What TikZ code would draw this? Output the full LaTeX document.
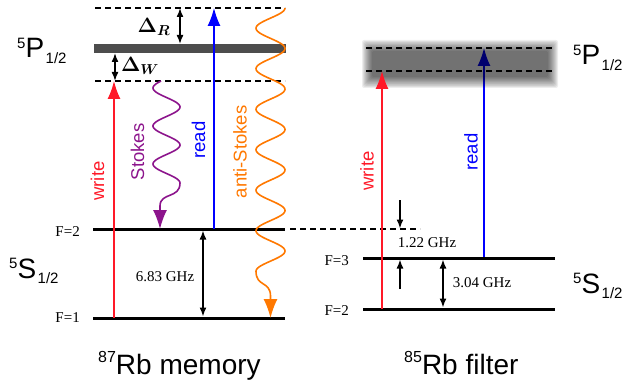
\documentclass[tikz,border=0pt]{standalone}
\usepackage[no-math]{fontspec}
\setmainfont{Liberation Sans}
\newfontfamily\serifF{Liberation Serif}
\usepackage{amsmath,bm}
\usetikzlibrary{arrows.meta}
\definecolor{wred}{RGB}{255,25,40}
\definecolor{rblue}{RGB}{0,0,255}
\definecolor{spurple}{RGB}{140,20,140}
\definecolor{aorange}{RGB}{255,120,0}
\definecolor{bargray}{RGB}{77,77,77}
\newcommand{\levlab}[3]{{\fontsize{15}{15}\selectfont\raisebox{9.5pt}{#1}}{\fontsize{28}{28}\selectfont #2}\kern1.5pt{\fontsize{15}{15}\selectfont\raisebox{-5.5pt}{#3}}}
\newcommand{\isolab}[2]{{\fontsize{16}{16}\selectfont\raisebox{12pt}{#1}}{\fontsize{28}{28}\selectfont Rb #2}}
\begin{document}
\begin{tikzpicture}[x=1pt,y=-1pt,
  level/.style={line width=3pt},
  dashlev/.style={line width=1.5pt, dash pattern=on 6pt off 4pt},
  laser/.style={line width=1.6pt, -{Latex[length=18pt,width=13pt]}},
  photon/.style={line width=1.6pt, -{Latex[length=19pt,width=14pt]}},
  dbl/.style={line width=1.5pt, {Latex[length=9pt,width=7pt]}-{Latex[length=9pt,width=7pt]}},
  sgl/.style={line width=1.5pt, -{Latex[length=9pt,width=7pt]}},
  vlabel/.style={rotate=90, inner sep=0pt, font=\fontsize{18.5}{20}\selectfont},
  flabel/.style={anchor=east, inner sep=0pt, font=\serifF\fontsize{15}{16}\selectfont},
  ghz/.style={inner sep=0pt, font=\serifF\fontsize{15}{16}\selectfont},
  dlab/.style={inner sep=0pt, font=\fontsize{22}{24}\selectfont}]
\useasboundingbox (0,0) rectangle (624,385);

% ---------------- 87Rb memory ----------------
\coordinate (PtopL) at (95,8);   \coordinate (PtopR) at (285,8);
\coordinate (PlowL) at (95,81);  \coordinate (PlowR) at (285,81);
\coordinate (F2L) at (93,229);   \coordinate (F2R) at (285,229);
\coordinate (F1L) at (93,318);   \coordinate (F1R) at (285,318);

\draw[dashlev] (PtopL) -- (PtopR);
\draw[dashlev] (PlowL) -- (PlowR);
\fill[bargray] (94,44) rectangle (286,53);
\draw[level] (F2L) -- (F2R);
\draw[level] (F1L) -- (F1R);
\draw[dashlev] (290,229) -- (420,229);

% Delta arrows
\coordinate (dRa) at (180,8); \coordinate (dRb) at (180,44);
\coordinate (dWa) at (115,53); \coordinate (dWb) at (115,81);
\draw[dbl] (dRa) -- (dRb);
\draw[dbl] (dWa) -- (dWb);
\node[dlab] (DR) at (154,27) {$\bm{\Delta}_{\bm{R}}$};
\node[dlab] (DW) at (140,66) {$\bm{\Delta}_{\bm{W}}$};

% write / read
\coordinate (wL0) at (114,318); \coordinate (wL1) at (114,81);
\coordinate (rL0) at (214,229); \coordinate (rL1) at (214,8);
\draw[laser, wred] (wL0) -- (wL1);
\draw[laser, rblue] (rL0) -- (rL1);

% Stokes
\draw[photon, spurple] plot[domain=81:183, samples=120, smooth] ({166.5-13.5*cos((\x-88)*9.4737)}, \x)
   .. controls (180,199) and (160,192) .. (160,206) -- (160,229);
% anti-Stokes
\draw[photon, aorange] plot[domain=8:271.25, samples=250, smooth] ({270.5+14.5*cos((\x-8)*8.8889)}, \x)
   .. controls (256,287) and (270.5,281) .. (270.5,296) -- (270.5,318);

% 6.83 GHz
\coordinate (g1a) at (203,230.5); \coordinate (g1b) at (203,316.5);
\draw[dbl] (g1a) -- (g1b);
\node[ghz] (g683) at (165,277) {6.83 GHz};

% labels
\node[vlabel, text=wred] (wlabL) at (97.5,181) {write};
\node[vlabel, text=spurple] (slab) at (137.5,152) {Stokes};
\node[vlabel, text=rblue] (rlabL) at (198.5,140) {read};
\node[vlabel, text=aorange] (alab) at (240,152) {anti-Stokes};
\node[flabel] (f2l) at (80,232) {F=2};
\node[flabel] (f1l) at (80,318) {F=1};
\node[anchor=base west, inner sep=0pt] (P12L) at (17,58) {\levlab{5}{P}{1/2}};
\node[anchor=base west, inner sep=0pt] (S12L) at (9,278) {\levlab{5}{S}{1/2}};
\node[anchor=base west, inner sep=0pt] (memT) at (98,374) {\isolab{87}{memory}};

% ---------------- 85Rb filter ----------------
\coordinate (rR0) at (484,258); \coordinate (rR1) at (484,48);
\draw[laser, rblue] (rR0) -- (rR1);
\foreach \k in {0,...,10}
  \fill[black, opacity=0.07, rounded corners=2pt] (372-1.0*\k, 51-1.1*\k) rectangle (548+1.0*\k, 77+1.1*\k);
\coordinate (bTL) at (366,48); \coordinate (bTR) at (554,48);
\coordinate (bLL) at (366,71); \coordinate (bLR) at (554,71);
\draw[dashlev] (bTL) -- (bTR);
\draw[dashlev] (bLL) -- (bLR);
\coordinate (G3L) at (363,258); \coordinate (G3R) at (555,258);
\coordinate (G2L) at (363,309); \coordinate (G2R) at (555,309);
\draw[level] (G3L) -- (G3R);
\draw[level] (G2L) -- (G2R);
\coordinate (wR0) at (382,309); \coordinate (wR1) at (382,71);
\draw[laser, wred] (wR0) -- (wR1);

\coordinate (g2a) at (443,259.5); \coordinate (g2b) at (443,307.5);
\draw[dbl] (g2a) -- (g2b);
\node[ghz] (g304) at (482,283) {3.04 GHz};
\coordinate (dn0) at (400,200); \coordinate (dn1) at (400,228.5);
\coordinate (up0) at (400,289); \coordinate (up1) at (400,259.5);
\draw[sgl] (dn0) -- (dn1);
\draw[sgl] (up0) -- (up1);
\node[ghz] (g122) at (427,243) {1.22 GHz};

\node[vlabel, text=wred] (wlabR) at (367,171) {write};
\node[vlabel, text=rblue] (rlabR) at (471,152) {read};
\node[flabel] (f3r) at (349,261) {F=3};
\node[flabel] (f2r) at (349,311) {F=2};
\node[anchor=base west, inner sep=0pt] (P12R) at (573,65) {\levlab{5}{P}{1/2}};
\node[anchor=base west, inner sep=0pt] (S12R) at (573,293) {\levlab{5}{S}{1/2}};
\node[anchor=base west, inner sep=0pt] (filT) at (404,374) {\isolab{85}{filter}};
\end{tikzpicture}
\end{document}
